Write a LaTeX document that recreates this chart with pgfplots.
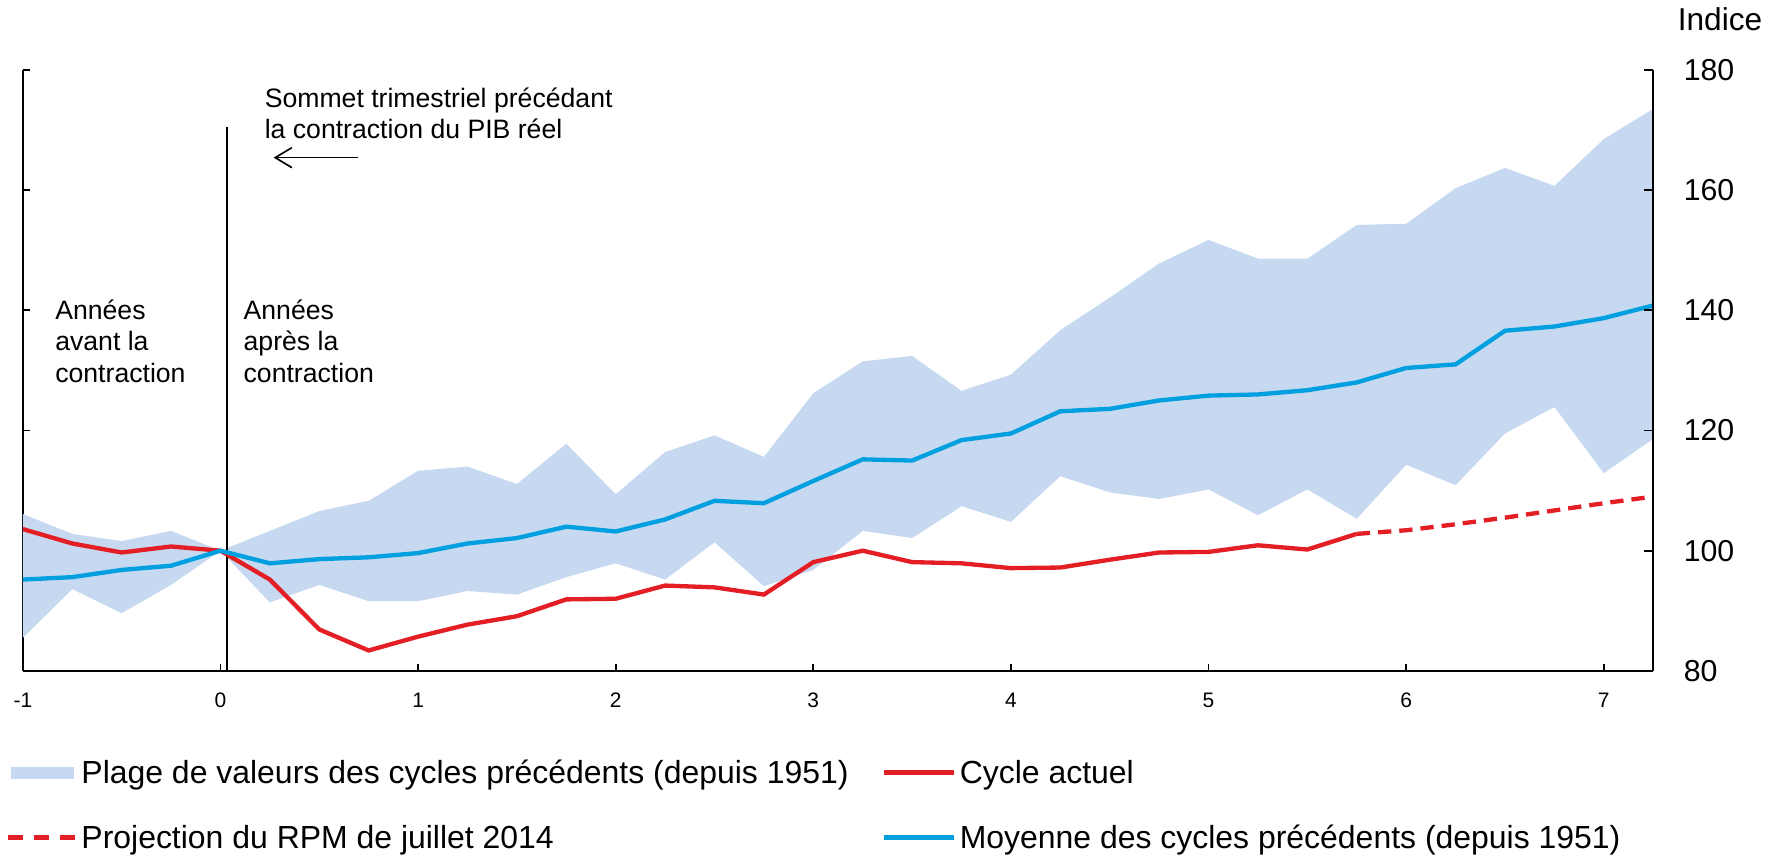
\documentclass[border=0pt]{standalone}
\usepackage{fontspec}
\setmainfont{Liberation Sans}
\usepackage{pgfplots}
\pgfplotsset{compat=1.18}
\usepackage{pgfplotstable}
\usepgfplotslibrary{fillbetween}
\usetikzlibrary{arrows.meta}
\definecolor{bandc}{RGB}{198,217,240}
\definecolor{meanc}{RGB}{0,160,224}
\definecolor{redc}{RGB}{227,30,36}

\pgfplotstableread{
x     lo     hi     mean
-1    85.5   106.1  95.2
-0.75 93.6   102.8  95.6
-0.5  89.6   101.6  96.8
-0.25 94.3   103.3  97.5
0     100    100    100
0.25  91.4   103.3  97.9
0.5   94.3   106.6  98.6
0.75  91.6   108.3  98.9
1     91.6   113.3  99.6
1.25  93.3   114.0  101.2
1.5   92.7   111.1  102.1
1.75  95.6   117.8  104.0
2     97.9   109.4  103.2
2.25  95.2   116.4  105.2
2.5   101.4  119.2  108.3
2.75  94.1   115.6  107.9
3     96.8   126.2  111.6
3.25  103.3  131.5  115.2
3.5   102.1  132.4  115.0
3.75  107.4  126.6  118.4
4     104.8  129.3  119.5
4.25  112.4  136.7  123.2
4.5   109.7  142.1  123.6
4.75  108.6  147.8  125.0
5     110.2  151.7  125.8
5.25  105.9  148.6  126.0
5.5   110.2  148.6  126.7
5.75  105.3  154.2  128.0
6     114.3  154.4  130.4
6.25  110.9  160.3  131.0
6.5   119.5  163.7  136.6
6.75  123.9  160.7  137.3
7     112.9  168.5  138.7
7.25  118.6  173.5  140.8
}\band

\pgfplotstableread{
x     y
-1    103.6
-0.75 101.2
-0.5  99.7
-0.25 100.7
0     100
0.25  95.2
0.5   86.9
0.75  83.4
1     85.7
1.25  87.7
1.5   89.1
1.75  91.9
2     92.0
2.25  94.2
2.5   93.9
2.75  92.7
3     98.1
3.25  100.0
3.5   98.1
3.75  97.9
4     97.1
4.25  97.2
4.5   98.5
4.75  99.7
5     99.8
5.25  100.9
5.5   100.2
5.75  102.8
}\actual

\pgfplotstableread{
x     y
5.75  102.8
6     103.4
6.25  104.4
6.5   105.5
6.75  106.7
7     107.9
7.25  109.0
}\proj

\begin{document}
\begin{tikzpicture}
\begin{axis}[
  width=489.9pt, height=180.6pt, scale only axis,
  xmin=-1, xmax=7.25, ymin=80, ymax=180,
  axis x line*=bottom, axis y line*=left,
  axis line style={line width=0.5pt},
  tick align=inside, major tick length=2.2pt,
  every tick/.style={black, line width=0.5pt},
  xtick={-1,0,1,2,3,4,5,6,7},
  xticklabels={-1,0,1,2,3,4,5,6,7},
  xticklabel style={font=\fontsize{6.3}{7}\selectfont, anchor=base, inner sep=0pt, yshift=-10.9pt},
  ytick={80,100,120,140,160,180},
  yticklabel=\empty,
  legend columns=2,
  legend cell align=left,
  legend style={at={(-0.0110,-0.1475)}, anchor=north west, draw=none, fill=none,
    inner sep=0pt, row sep=10.5pt,
    font=\fontsize{9.6}{11}\selectfont,
    nodes={inner sep=0pt, text height=7pt, text depth=2pt},
    /tikz/every odd column/.append style={column sep=1.2pt},
    /tikz/every even column/.append style={column sep=10pt}},
]
\addplot[name path=hi, draw=none, forget plot] table[x=x, y=hi] {\band};
\addplot[name path=lo, draw=none, forget plot] table[x=x, y=lo] {\band};
\addplot[bandc, draw=none, area legend,
  legend image code/.code={\fill[bandc] (1.1pt,-1.0pt) rectangle (19.9pt,2.6pt);}]
  fill between[of=hi and lo];
\addlegendentry{Plage de valeurs des cycles précédents (depuis 1951)}
\addplot[black, line width=0.6pt, forget plot] coordinates {(0.035,80) (0.035,170.5)};
\addplot[redc, line width=1.3pt,
  legend image code/.code={\draw[redc, line width=1.3pt] (0pt,0.8pt) -- (20.9pt,0.8pt);}]
  table[x=x, y=y] {\actual};
\addlegendentry{Cycle actuel}
\addplot[redc, line width=1.3pt, dash pattern=on 4pt off 2.4pt,
  legend image code/.code={\draw[redc, line width=1.3pt, dash pattern=on 4.5pt off 3.4pt] (0pt,0.8pt) -- (20.3pt,0.8pt);}]
  table[x=x, y=y] {\proj};
\addlegendentry{Projection du RPM de juillet 2014}
\addplot[meanc, line width=1.3pt,
  legend image code/.code={\draw[meanc, line width=1.3pt] (0pt,0.8pt) -- (20.9pt,0.8pt);}]
  table[x=x, y=mean] {\band};
\addlegendentry{Moyenne des cycles précédents (depuis 1951)}

\node[anchor=base west, inner sep=0pt, font=\fontsize{8.0}{9.5}\selectfont] at (axis cs:0.221,173.8) {Sommet trimestriel précédant};
\node[anchor=base west, inner sep=0pt, font=\fontsize{8.0}{9.5}\selectfont] at (axis cs:0.221,168.5) {la contraction du PIB réel};
\draw[-{Straight Barb[length=5pt,width=6pt]}, line width=0.5pt] (axis cs:0.697,165.4) -- (axis cs:0.269,165.4);

\node[anchor=base west, inner sep=0pt, font=\fontsize{8.0}{9.5}\selectfont] at (axis cs:-0.839,138.5) {Années};
\node[anchor=base west, inner sep=0pt, font=\fontsize{8.0}{9.5}\selectfont] at (axis cs:-0.839,133.3) {avant la};
\node[anchor=base west, inner sep=0pt, font=\fontsize{8.0}{9.5}\selectfont] at (axis cs:-0.839,128.0) {contraction};
\node[anchor=base west, inner sep=0pt, font=\fontsize{8.0}{9.5}\selectfont] at (axis cs:0.114,138.5) {Années};
\node[anchor=base west, inner sep=0pt, font=\fontsize{8.0}{9.5}\selectfont] at (axis cs:0.114,133.3) {après la};
\node[anchor=base west, inner sep=0pt, font=\fontsize{8.0}{9.5}\selectfont] at (axis cs:0.114,128.0) {contraction};
\end{axis}

\begin{axis}[
  width=489.9pt, height=180.6pt, scale only axis,
  xmin=-1, xmax=7.25, ymin=80, ymax=180,
  axis x line=none, axis y line*=right,
  axis line style={line width=0.5pt},
  tick align=inside, major tick length=2.8pt,
  every tick/.style={black, line width=0.5pt},
  ytick={80,100,120,140,160,180},
  yticklabels={80,100,120,140,160,180},
  yticklabel style={font=\fontsize{9.1}{11}\selectfont, anchor=west, inner sep=0pt, xshift=9pt},
  clip=false,
]
\addplot[draw=none, forget plot] coordinates {(-1,80) (7.25,180)};
\node[anchor=base west, inner sep=0pt, font=\fontsize{9.5}{11}\selectfont, xshift=7.2pt] at (axis cs:7.25,186.5) {Indice};
\end{axis}
\path (-6pt,-54.9pt) rectangle (528.3pt,201.6pt);
\end{tikzpicture}
\end{document}
